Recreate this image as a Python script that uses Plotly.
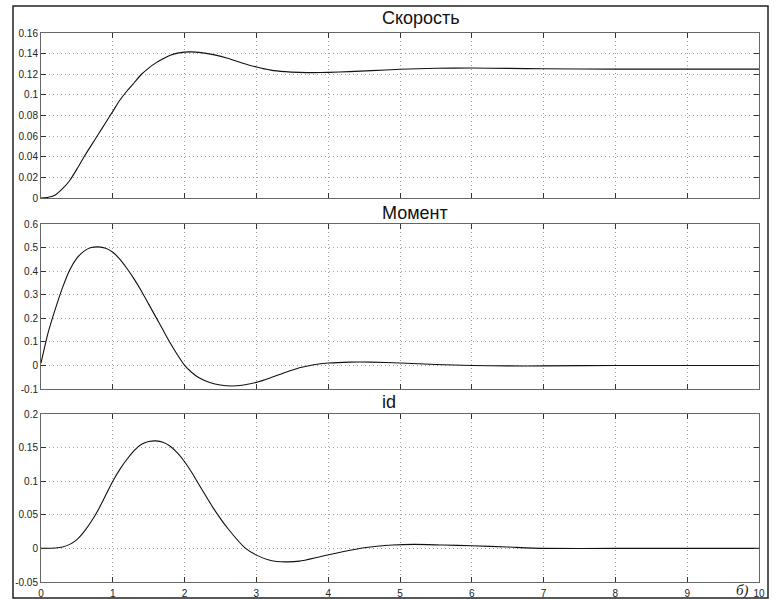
import plotly.graph_objects as go
from plotly.subplots import make_subplots

# Скорость
t_speed = [0, 0.1, 0.2, 0.3, 0.4, 0.5, 0.6, 0.7, 0.8, 0.9, 1.0, 1.1, 1.2, 1.3, 1.4, 1.5,
           1.6, 1.7, 1.8, 1.9, 2.0, 2.1, 2.2, 2.4, 2.6, 2.8, 3.0, 3.2, 3.4, 3.6, 3.8, 4.0,
           4.3, 4.6, 5.0, 5.5, 6.0, 6.5, 7.0, 8.0, 10.0]
speed = [0, 0.0008, 0.003, 0.009, 0.017, 0.028, 0.04, 0.051, 0.062, 0.073, 0.084, 0.095,
         0.104, 0.112, 0.12, 0.126, 0.131, 0.135, 0.1385, 0.1405, 0.1415, 0.1417, 0.1412,
         0.139, 0.1355, 0.131, 0.127, 0.124, 0.1225, 0.1218, 0.1216, 0.1218, 0.1225,
         0.1235, 0.1248, 0.1258, 0.126, 0.1257, 0.1253, 0.125, 0.125]

# Момент
t_moment = [0, 0.1, 0.2, 0.3, 0.4, 0.5, 0.6, 0.7, 0.8, 0.9, 1.0, 1.1, 1.2, 1.3, 1.4, 1.5,
            1.6, 1.7, 1.8, 1.9, 2.0, 2.1, 2.2, 2.35, 2.5, 2.65, 2.8, 3.0, 3.2, 3.4, 3.6,
            3.8, 4.0, 4.3, 4.6, 5.0, 5.5, 6.0, 6.5, 7.0, 8.0, 10.0]
moment = [0.01, 0.14, 0.24, 0.33, 0.405, 0.455, 0.485, 0.5, 0.503, 0.497, 0.48, 0.45, 0.41,
          0.365, 0.315, 0.26, 0.205, 0.15, 0.095, 0.045, 0.0, -0.03, -0.052, -0.072,
          -0.083, -0.087, -0.084, -0.072, -0.052, -0.03, -0.01, 0.003, 0.01, 0.014, 0.014,
          0.01, 0.004, 0.0, -0.002, -0.002, 0.0, 0.0]

# id
t_id = [0, 0.2, 0.3, 0.4, 0.5, 0.6, 0.7, 0.8, 0.9, 1.0, 1.1, 1.2, 1.3, 1.4, 1.5, 1.6, 1.7,
        1.8, 1.9, 2.0, 2.1, 2.2, 2.4, 2.6, 2.85, 3.0, 3.2, 3.4, 3.6, 3.9, 4.2, 4.5, 4.9,
        5.2, 5.6, 6.0, 6.5, 7.0, 8.0, 10.0]
id_vals = [0, 0.0005, 0.002, 0.006, 0.013, 0.025, 0.04, 0.058, 0.079, 0.1, 0.118, 0.133,
           0.146, 0.155, 0.159, 0.16, 0.158, 0.152, 0.142, 0.129, 0.113, 0.095, 0.06,
           0.03, 0.0, -0.01, -0.018, -0.02, -0.019, -0.012, -0.005, 0.001, 0.005, 0.006,
           0.005, 0.004, 0.002, 0.0, 0.0, 0.0]

titles = ["Скорость", "Момент", "id"]
x_ticks = list(range(0, 11))
y_ranges = [[0, 0.16], [-0.1, 0.6], [-0.05, 0.2]]
y_ticks = [
    [0, 0.02, 0.04, 0.06, 0.08, 0.1, 0.12, 0.14, 0.16],
    [-0.1, 0, 0.1, 0.2, 0.3, 0.4, 0.5, 0.6],
    [-0.05, 0, 0.05, 0.1, 0.15, 0.2],
]

W, H = 774, 599
ml, mr, mt, mb = 41, 15, 33, 17
pw, ph = W - ml - mr, H - mt - mb

def ydom(top_px, bot_px):
    return [(H - mb - bot_px) / ph, (H - mb - top_px) / ph]

domains = [ydom(33, 198), ydom(224, 389), ydom(414, 582)]

fig = make_subplots(rows=3, cols=1)
series = [(t_speed, speed), (t_moment, moment), (t_id, id_vals)]
tickfont = dict(family="Liberation Sans Narrow, Liberation Sans, Arial", size=10, color="#222")
grid = dict(showgrid=True, gridcolor="#a0a0a0", griddash="1px,3px", gridwidth=1)
for i, (tx, ty) in enumerate(series):
    fig.add_trace(go.Scatter(x=tx, y=ty, mode="lines",
                             line=dict(color="#111", width=1.1, shape="spline", smoothing=0.6),
                             showlegend=False, hoverinfo="skip"), row=i + 1, col=1)
    xa = "xaxis" if i == 0 else f"xaxis{i+1}"
    ya = "yaxis" if i == 0 else f"yaxis{i+1}"
    fig.layout[xa].update(range=[0, 10], tickvals=x_ticks, showticklabels=(i == 2),
                          ticks="inside", ticklen=5, tickcolor="#333", mirror="ticks",
                          showline=True, linecolor="#666", linewidth=1, automargin=False,
                          zeroline=False, tickfont=tickfont, ticklabelstandoff=2, **grid)
    fig.layout[ya].update(range=y_ranges[i], tickvals=y_ticks[i],
                          ticktext=[("%g" % v) for v in y_ticks[i]],
                          domain=domains[i], automargin=False,
                          ticks="inside", ticklen=5, tickcolor="#333", mirror="ticks",
                          showline=True, linecolor="#666", linewidth=1,
                          zeroline=False, tickfont=tickfont, **grid)

title_px = [18, 213, 402]
for i, name in enumerate(titles):
    fig.add_annotation(text=name, xref="paper", yref="paper",
                       x=(380 - ml) / pw, y=(H - mb - title_px[i]) / ph,
                       xanchor="left", yanchor="middle", showarrow=False,
                       font=dict(family="Liberation Sans, Arial", size=18, color="#111"))

fig.add_annotation(text="<i>б)</i>", xref="paper", yref="paper",
                   x=(751 - ml) / pw, y=(H - mb - 590) / ph, xanchor="right", yanchor="middle",
                   showarrow=False, font=dict(family="Liberation Serif, serif", size=15, color="#222"))

# outer frame
fig.add_shape(type="rect", xref="paper", yref="paper",
              x0=(13 - ml) / pw, x1=(768 - ml) / pw,
              y0=(H - mb - 598) / ph, y1=(H - mb - 6) / ph,
              line=dict(color="#222", width=1.5), fillcolor="rgba(0,0,0,0)", layer="below")

fig.update_layout(width=W, height=H, margin=dict(l=ml, r=mr, t=mt, b=mb),
                  paper_bgcolor="white", plot_bgcolor="white")

fig.write_html("out.html", config={"displayModeBar": False},
               post_script="document.body.style.margin='0';document.body.style.overflow='hidden';")
